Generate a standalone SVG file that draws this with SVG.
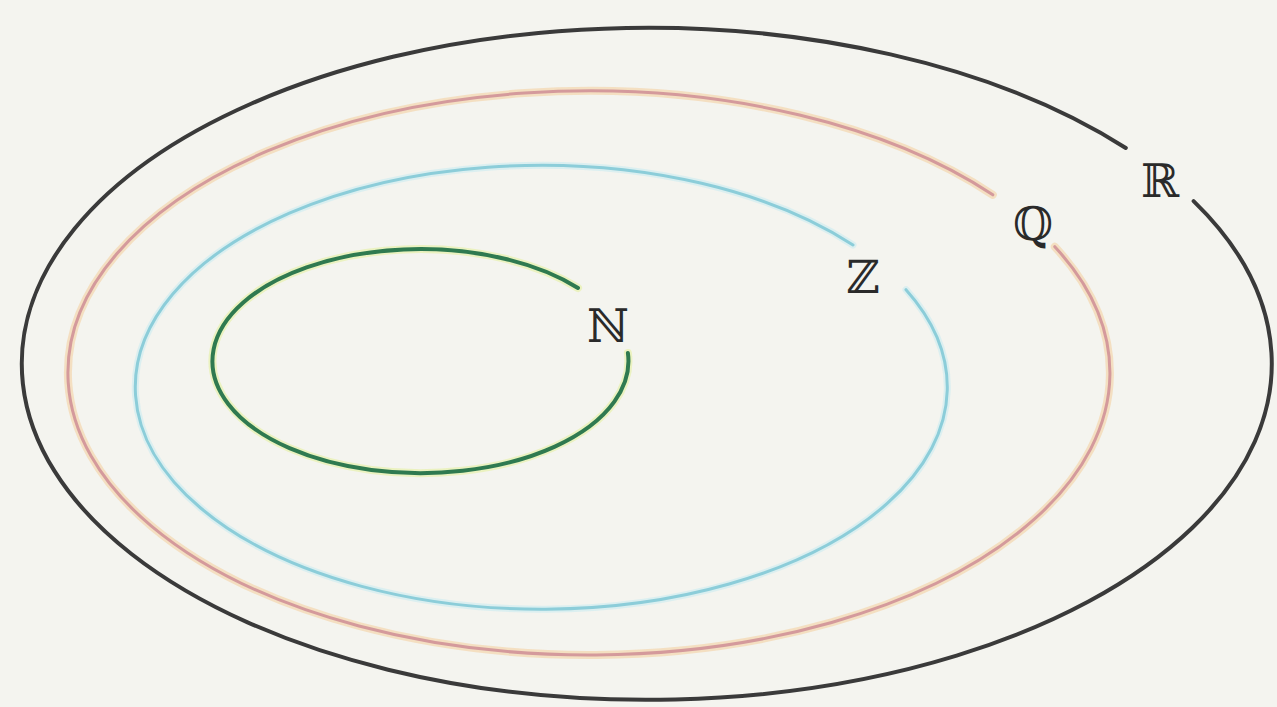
<svg xmlns="http://www.w3.org/2000/svg" width="1277" height="707" viewBox="0 0 1277 707">
<style>
.set{fill:none;stroke-linecap:round}
.lbl{font-family:"DejaVu Serif","Liberation Serif",serif;font-size:46px;fill:#2a2a2a}
</style>
<rect width="1277" height="707" fill="#f4f4ef"/>
<g id="connectors"></g>
<g id="set-R">
<path class="set" d="M1125.8,148 A625,336 0 1 0 1193.6,201.1" stroke="#3a3a3a" stroke-width="4"/>
<text class="lbl" x="1141" y="197">ℝ</text>
</g>
<g id="set-Q">
<path class="set" d="M992.8,194.8 A521,282 0 1 0 1054.8,246.7" stroke="#f3d6ae" stroke-width="8" opacity="0.7"/>
<path class="set" d="M992.8,194.8 A521,282 0 1 0 1054.8,246.7" stroke="#d49a9c" stroke-width="3"/>
<text class="lbl" x="1013" y="240">ℚ</text>
</g>
<g id="set-Z">
<path class="set" d="M853,245 A406,222 0 1 0 906,289.7" stroke="#d4eef0" stroke-width="7" opacity="0.8"/>
<path class="set" d="M853,245 A406,222 0 1 0 906,289.7" stroke="#8ccdd9" stroke-width="3"/>
<text class="lbl" x="846" y="293">ℤ</text>
</g>
<g id="set-N">
<path class="set" d="M578,288 A208,112 0 1 0 627.9,353" stroke="#e4f0a0" stroke-width="8" opacity="0.6"/>
<path class="set" d="M578,288 A208,112 0 1 0 627.9,353" stroke="#2f7a50" stroke-width="4"/>
<text class="lbl" x="587" y="342">ℕ</text>
</g>
</svg>
